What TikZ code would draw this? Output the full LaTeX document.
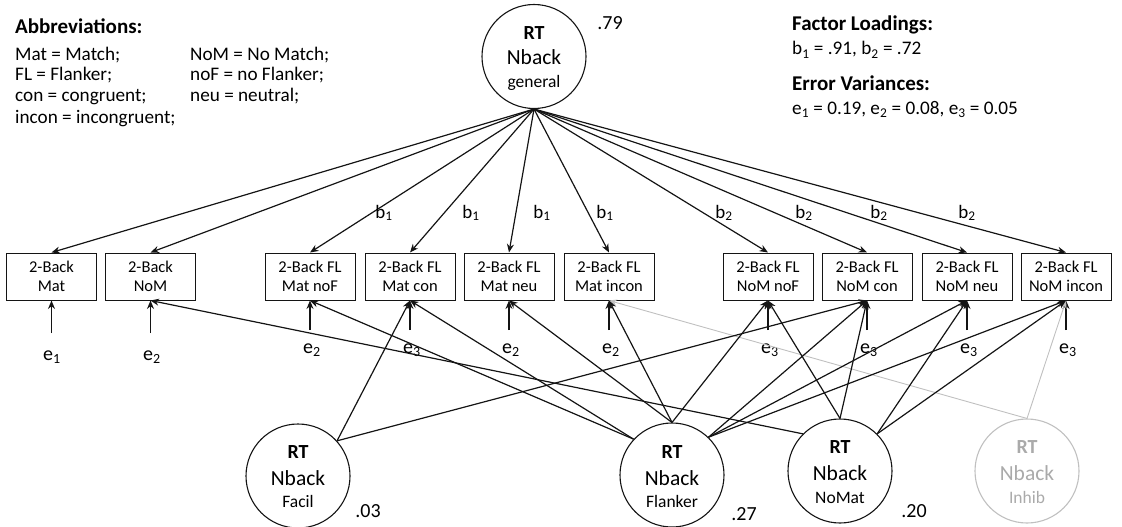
\documentclass[tikz,border=0pt]{standalone}
\usepackage{fontspec}
\setmainfont{Carlito}
\usetikzlibrary{arrows.meta}
\definecolor{inkline}{RGB}{20,20,20}
\definecolor{faint}{RGB}{192,192,192}
\definecolor{fainttext}{RGB}{170,170,170}
\begin{document}
\begin{tikzpicture}[x=1pt,y=-1pt,
  ind/.style={draw=inkline,line width=1pt,minimum width=90pt,minimum height=47pt,
    inner sep=0pt,align=center,font=\fontsize{16.5}{19.5}\selectfont},
  lat/.style={draw=inkline,circle,line width=1.1pt,minimum size=104pt,inner sep=0pt},
  latfaint/.style={lat,draw=faint},
  load/.style={inkline,line width=1.2pt,-{Stealth[length=8.5pt,width=7pt]}},
  loadfaint/.style={faint,line width=0.9pt,-{Stealth[length=8pt,width=6.5pt]}},
  errarrow/.style={inkline,line width=1.2pt,-{Stealth[length=8.5pt,width=7pt]}},
  errlab/.style={anchor=base,font=\fontsize{20}{24}\selectfont},
  coef/.style={anchor=center,font=\fontsize{19}{23}\selectfont},
  val/.style={anchor=base,font=\fontsize{20}{24}\selectfont},
  rtlab/.style={anchor=base,font=\fontsize{20}{24}\selectfont\bfseries},
  nblab/.style={anchor=base,font=\fontsize{21.5}{25}\selectfont},
  sublab/.style={anchor=base,font=\fontsize{17.5}{21}\selectfont},
  note/.style={anchor=base west,inner sep=0pt,font=\fontsize{19.2}{23}\selectfont},
  notehead/.style={anchor=base west,inner sep=0pt,font=\fontsize{21}{25}\selectfont\bfseries},
]
\useasboundingbox (0,0) rectangle (1122,527);

% ---------- legend texts ----------
\node[notehead] (abbr) at (15,34) {Abbreviations:};
\node[note] (a1) at (15,60) {Mat = Match;};
\node[note] (a2) at (15,81) {FL = Flanker;};
\node[note] (a3) at (15,102) {con = congruent;};
\node[note] (a4) at (15,123) {incon = incongruent;};
\node[note] (a5) at (190,60) {NoM = No Match;};
\node[note] (a6) at (190,81) {noF = no Flanker;};
\node[note] (a7) at (190,102) {neu = neutral;};

\node[notehead] (fl) at (792,31) {Factor Loadings:};
\node[note] (flv) at (792,55) {b\textsubscript{1} = .91, b\textsubscript{2} = .72};
\node[notehead] (ev) at (792,91) {Error Variances:};
\node[note] (evv) at (792,114) {e\textsubscript{1} = 0.19, e\textsubscript{2} = 0.08, e\textsubscript{3} = 0.05};

% ---------- latent variables ----------
\node[lat] (gen) at (534,56.5) {};
\path (gen.center) ++(0,-17) node[rtlab] (genrt) {RT};
\path (gen.center) ++(0,8) node[nblab] (gennb) {Nback};
\path (gen.center) ++(0,31) node[sublab] (gensub) {general};
\node[val] (genval) at (610,30) {.79};

\node[lat] (facil) at (298,476) {};
\path (facil.center) ++(0,-18) node[rtlab] (facrt) {RT};
\path (facil.center) ++(0,9) node[nblab] (facnb) {Nback};
\path (facil.center) ++(0,31) node[sublab] (facsub) {Facil};
\node[val] (facval) at (368,517) {.03};

\node[lat] (flank) at (672,475) {};
\path (flank.center) ++(0,-17) node[rtlab] (flrt) {RT};
\path (flank.center) ++(0,10) node[nblab] (flnb) {Nback};
\path (flank.center) ++(0,32) node[sublab] (flsub) {Flanker};
\node[val] (flval) at (744,520) {.27};

\node[lat] (nomat) at (840,471) {};
\path (nomat.center) ++(0,-18) node[rtlab] (nmrt) {RT};
\path (nomat.center) ++(0,9) node[nblab] (nmnb) {Nback};
\path (nomat.center) ++(0,32) node[sublab] (nmsub) {NoMat};
\node[val] (nmval) at (914,517) {.20};

\node[latfaint] (inhib) at (1027,471) {};
\path (inhib.center) ++(0,-18) node[rtlab,text=fainttext] (ihrt) {RT};
\path (inhib.center) ++(0,9) node[nblab,text=fainttext] (ihnb) {Nback};
\path (inhib.center) ++(0,32) node[sublab,text=fainttext] (ihsub) {Inhib};

% ---------- indicators ----------
\node[ind] (m)    at (51.5,276.5) {2-Back\\Mat};
\node[ind] (n)    at (150.5,276.5) {2-Back\\NoM};
\node[ind] (mnof) at (310,276.5) {2-Back FL\\Mat noF};
\node[ind] (mcon) at (410,276.5) {2-Back FL\\Mat con};
\node[ind] (mneu) at (509,276.5) {2-Back FL\\Mat neu};
\node[ind] (minc) at (609,276.5) {2-Back FL\\Mat incon};
\node[ind] (nnof) at (768,276.5) {2-Back FL\\NoM noF};
\node[ind] (ncon) at (867,276.5) {2-Back FL\\NoM con};
\node[ind] (nneu) at (967,276.5) {2-Back FL\\NoM neu};
\node[ind] (ninc) at (1066,276.5) {2-Back FL\\NoM incon};

% ---------- error terms ----------
\coordinate (em) at (51.5,333);
\coordinate (en) at (150.5,333);
\coordinate (emnof) at (310,330);
\coordinate (emcon) at (410,330);
\coordinate (emneu) at (509,330);
\coordinate (eminc) at (609,330);
\coordinate (ennof) at (768,330);
\coordinate (encon) at (867,330);
\coordinate (enneu) at (967,330);
\coordinate (eninc) at (1066,330);
\foreach \e/\b in {em/m,en/n,emnof/mnof,emcon/mcon,emneu/mneu,eminc/minc,ennof/nnof,encon/ncon,enneu/nneu,eninc/ninc}
  \draw[errarrow] (\e) -- (\b.south);

\node[errlab] (lm)    at (52,360) {e\textsubscript{1}};
\node[errlab] (ln)    at (152,360) {e\textsubscript{2}};
\node[errlab] (lmnof) at (312,353) {e\textsubscript{2}};
\node[errlab] (lmcon) at (412,353) {e\textsubscript{3}};
\node[errlab] (lmneu) at (511,353) {e\textsubscript{2}};
\node[errlab] (lminc) at (611,353) {e\textsubscript{2}};
\node[errlab] (lnnof) at (770,353) {e\textsubscript{3}};
\node[errlab] (lncon) at (869,353) {e\textsubscript{3}};
\node[errlab] (lnneu) at (969,353) {e\textsubscript{3}};
\node[errlab] (lninc) at (1068,353) {e\textsubscript{3}};

% ---------- faint inhibition factor ----------
\draw[loadfaint] (inhib.north) -- (minc.south);
\draw[loadfaint] (inhib.north) -- (ninc.south);

% ---------- general factor loadings ----------
\foreach \b in {m,n,mnof,mcon,mneu,minc,nnof,ncon,nneu,ninc}
  \draw[load] (gen.south) -- (\b.north);

\node[coef] (b1a) at (384,213) {b\textsubscript{1}};
\node[coef] (b1b) at (471,213) {b\textsubscript{1}};
\node[coef] (b1c) at (542,213) {b\textsubscript{1}};
\node[coef] (b1d) at (605,213) {b\textsubscript{1}};
\node[coef] (b2a) at (724,213) {b\textsubscript{2}};
\node[coef] (b2b) at (804,213) {b\textsubscript{2}};
\node[coef] (b2c) at (879,213) {b\textsubscript{2}};
\node[coef] (b2d) at (967,213) {b\textsubscript{2}};

% ---------- specific factor loadings ----------
\draw[load] (facil.42) -- (mcon.south);
\draw[load] (facil.42) -- (ncon.south);

\draw[load] (flank.137) -- (mnof.south);
\draw[load] (flank.137) -- (mcon.south);
\draw[load] (flank.north) -- (mneu.south);
\draw[load] (flank.north) -- (minc.south);
\draw[load] (flank.north) -- (nnof.south);
\draw[load] (flank.46) -- (ncon.south);
\draw[load] (flank.46) -- (nneu.south);
\draw[load] (flank.46) -- (ninc.south);

\draw[load] (nomat.135) -- (n.south);
\draw[load] (nomat.north) -- (nnof.south);
\draw[load] (nomat.north) -- (ncon.south);
\draw[load] (nomat.45) -- (nneu.south);
\draw[load] (nomat.45) -- (ninc.south);
\end{tikzpicture}
\end{document}
